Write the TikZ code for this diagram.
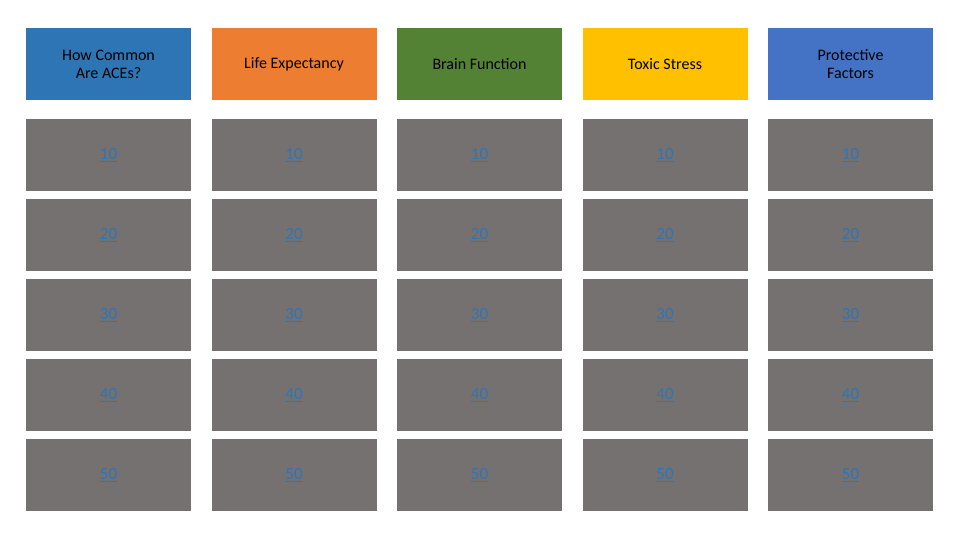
\documentclass[tikz,border=0pt]{standalone}
\usepackage{fontspec}
\setmainfont{Carlito}
\definecolor{c1}{HTML}{2E75B6}
\definecolor{c2}{HTML}{ED7D31}
\definecolor{c3}{HTML}{548235}
\definecolor{c4}{HTML}{FFC000}
\definecolor{c5}{HTML}{4472C4}
\definecolor{cell}{HTML}{767171}
\definecolor{link}{HTML}{2E75B6}
\begin{document}
\begin{tikzpicture}[x=1pt,y=-1pt,
  hdr/.style={minimum width=165pt,minimum height=72pt,inner sep=0pt,align=center,font=\fontsize{16}{18}\selectfont,text=black},
  cellbox/.style={fill=cell,minimum width=165pt,minimum height=72pt,inner sep=0pt,font=\fontsize{17}{20}\selectfont,text=link}]
\fill[white] (0,0) rectangle (960,540);
\foreach \x/\c/\t [count=\i] in {108.5/c1/{How Common\\Are ACEs?},294/c2/{Life Expectancy},479.5/c3/{Brain Function},665/c4/{Toxic Stress},850.5/c5/{Protective\\Factors}}{
  \node[hdr,fill=\c] (h\i) at (\x,64) {\t};
  \foreach \v/\y in {10/155,20/235,30/315,40/395,50/475}{
    \node[cellbox] (n\i\v) at (\x,\y) {\underline{\v}};
  }
}
\end{tikzpicture}
\end{document}
